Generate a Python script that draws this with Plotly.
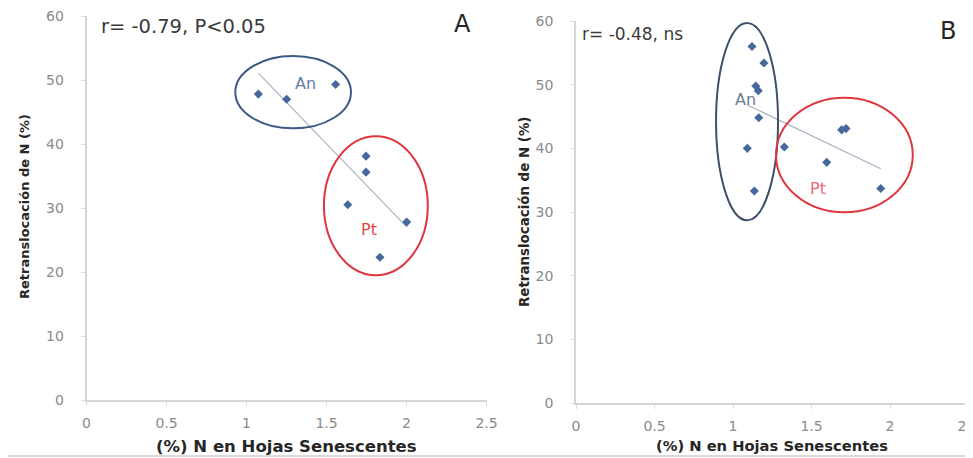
import numpy as np
import plotly.graph_objects as go

# ---------------- data ----------------
# Panel A
a_x = [1.074, 1.251, 1.557, 1.747, 1.747, 1.633, 2.001, 1.834]
a_y = [47.8, 47.0, 49.3, 38.1, 35.6, 30.5, 27.8, 22.3]
# Panel B
b_x = [1.121, 1.197, 1.145, 1.161, 1.164, 1.091, 1.136, 1.327, 1.597, 1.692, 1.720, 1.941]
b_y = [56.0, 53.4, 49.8, 49.05, 44.8, 40.0, 33.3, 40.2, 37.8, 42.9, 43.1, 33.7]

x_ticks = [0, 0.5, 1, 1.5, 2, 2.5]
x_ticklabels = ["0", "0.5", "1", "1.5", "2", "2.5"]
y_ticks = [0, 10, 20, 30, 40, 50, 60]

stat_a = "r= -0.79, P<0.05"
stat_b = "r= -0.48, ns"
x_title = "(%) N en Hojas Senescentes"
y_title = "Retranslocación de N (%)"

# the page body has an 8px margin; work in window pixels and convert
OFF = 8
W, H = 973 - OFF, 458 - OFF
def px(x):
    return (x - OFF) / W
def py(y):
    return 1 - (y - OFF) / H

FONT = "DejaVu Sans"
MARK = "#46689a"
TREND = "#a9b3c3"

def trend(xs, ys):
    k, b = np.polyfit(xs, ys, 1)
    xx = np.array([min(xs), max(xs)])
    return xx, k * xx + b

fig = go.Figure()
for xs, ys, xa, ya in [(a_x, a_y, "x", "y"), (b_x, b_y, "x2", "y2")]:
    tx, ty = trend(xs, ys)
    fig.add_trace(go.Scatter(x=tx, y=ty, mode="lines", xaxis=xa, yaxis=ya,
                             line=dict(color=TREND, width=1.2), showlegend=False,
                             hoverinfo="skip"))
    fig.add_trace(go.Scatter(x=xs, y=ys, mode="markers", xaxis=xa, yaxis=ya,
                             marker=dict(symbol="diamond", size=7, color=MARK),
                             showlegend=False))

axis_common = dict(showgrid=False, zeroline=False, showline=True, linecolor="#d4d4d4",
                   linewidth=1.5, ticks="outside", ticklen=4, tickcolor="#dcdcdc",
                   automargin=False, ticklabeloverflow="allow",
                   tickfont=dict(family=FONT, size=14, color="#8a8a8a"))

fig.update_layout(
    width=W, height=H, margin=dict(l=0, r=0, t=0, b=0, autoexpand=False),
    paper_bgcolor="white", plot_bgcolor="white",
    xaxis=dict(domain=[px(86.5), px(486.5)], range=[0, 2.5], anchor="y",
               tickvals=x_ticks, ticktext=x_ticklabels, ticklabelstandoff=5, **axis_common),
    yaxis=dict(domain=[py(400), py(16)], range=[0, 60], anchor="x",
               tickvals=y_ticks, ticklabelstandoff=14, **axis_common),
    xaxis2=dict(domain=[px(576), px(968.5)], range=[0, 2.5], anchor="y2",
                tickvals=x_ticks, ticktext=x_ticklabels, ticklabelstandoff=5, **axis_common),
    yaxis2=dict(domain=[py(403), py(21)], range=[0, 60], anchor="x2",
                tickvals=y_ticks, ticklabelstandoff=14, **axis_common),
)

shapes = [
    dict(type="circle", xref="x", yref="y", x0=0.93, x1=1.653, y0=42.45, y1=53.75,
         line=dict(color="#3d5a86", width=2)),
    dict(type="circle", xref="x", yref="y", x0=1.484, x1=2.133, y0=19.5, y1=41.2,
         line=dict(color="#e0353c", width=2)),
    dict(type="circle", xref="x2", yref="y2", x0=0.892, x1=1.287, y0=28.7, y1=59.7,
         line=dict(color="#3d5068", width=2)),
    dict(type="circle", xref="x2", yref="y2", x0=1.274, x1=2.145, y0=29.95, y1=47.95,
         line=dict(color="#e0353c", width=2)),
    dict(type="line", xref="paper", yref="paper", x0=-0.01, x1=1.01, y0=py(456), y1=py(456),
         line=dict(color="#b4b4b4", width=1)),
]
fig.update_layout(shapes=shapes)

ann = [
    dict(text=stat_a, xref="paper", yref="paper", x=px(99), y=py(26.5), xanchor="left",
         yanchor="middle", font=dict(family=FONT, size=19.5, color="#3a3a3a")),
    dict(text="A", xref="paper", yref="paper", x=px(462), y=py(24), xanchor="center",
         yanchor="middle", font=dict(family=FONT, size=24, color="#262626")),
    dict(text=stat_b, xref="paper", yref="paper", x=px(580), y=py(34.5), xanchor="left",
         yanchor="middle", font=dict(family=FONT, size=17, color="#3a3a3a")),
    dict(text="B", xref="paper", yref="paper", x=px(948), y=py(31), xanchor="center",
         yanchor="middle", font=dict(family=FONT, size=24, color="#262626")),
    dict(text="An", xref="x", yref="y", x=1.366, y=49.4, xanchor="center", yanchor="middle",
         font=dict(family=FONT, size=16, color="#5f7ea4")),
    dict(text="Pt", xref="x", yref="y", x=1.766, y=26.7, xanchor="center", yanchor="middle",
         font=dict(family=FONT, size=16, color="#e04848")),
    dict(text="An", xref="x2", yref="y2", x=1.081, y=47.6, xanchor="center", yanchor="middle",
         font=dict(family=FONT, size=16, color="#6d7c8e")),
    dict(text="Pt", xref="x2", yref="y2", x=1.539, y=33.7, xanchor="center", yanchor="middle",
         font=dict(family=FONT, size=16, color="#e86a78")),
    dict(text="<b>" + x_title + "</b>", xref="paper", yref="paper", x=px(286), y=py(446),
         xanchor="center", yanchor="middle", font=dict(family=FONT, size=16.5, color="#262626")),
    dict(text="<b>" + x_title + "</b>", xref="paper", yref="paper", x=px(772), y=py(445),
         xanchor="center", yanchor="middle", font=dict(family=FONT, size=14.7, color="#262626")),
    dict(text="<b>" + y_title + "</b>", xref="paper", yref="paper", x=px(24), y=py(207),
         xanchor="center", yanchor="middle", textangle=-90,
         font=dict(family=FONT, size=13, color="#262626")),
    dict(text="<b>" + y_title + "</b>", xref="paper", yref="paper", x=px(524), y=py(212),
         xanchor="center", yanchor="middle", textangle=-90,
         font=dict(family=FONT, size=13.4, color="#262626")),
]
fig.update_layout(annotations=[dict(showarrow=False, **a) for a in ann])

fig.write_html("out.html")
